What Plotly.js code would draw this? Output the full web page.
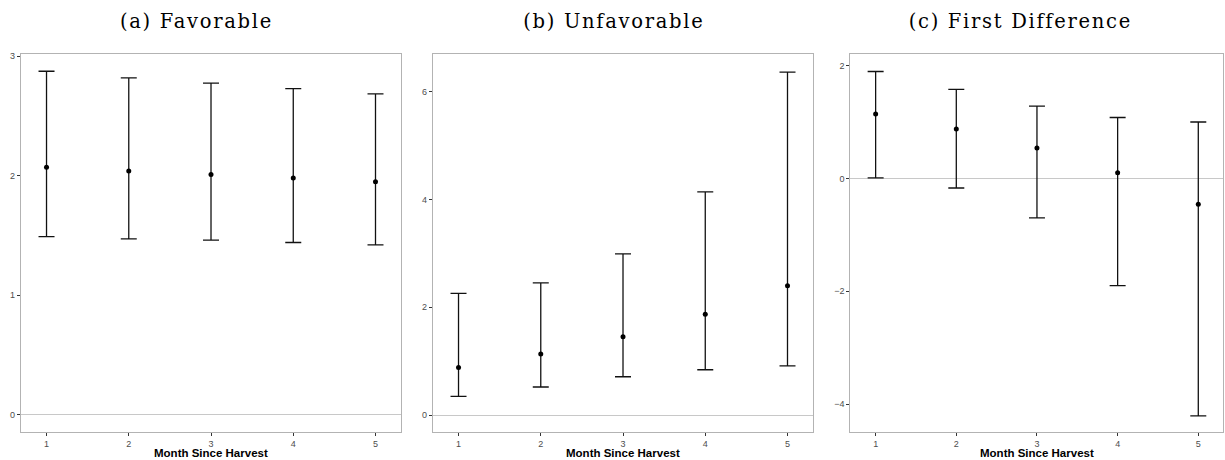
<!DOCTYPE html>
<html>
<head>
<meta charset="utf-8">
<script src="https://cdn.plot.ly/plotly-3.0.1.min.js"></script>
<style>
html,body{margin:0;padding:0;background:#fff;}
#chart{width:1225px;height:460px;}
#chart .annotation[data-index="0"] text,
#chart .annotation[data-index="1"] text,
#chart .annotation[data-index="2"] text{letter-spacing:1.7px;}
</style>
</head>
<body>
<div id="chart"></div>
<script>
// Months since harvest
const months = [1, 2, 3, 4, 5];
const tickLabels = ["1", "2", "3", "4", "5"];
const panelTitles = ["(a) Favorable", "(b) Unfavorable", "(c) First Difference"];
const xAxisTitle = "Month Since Harvest";

// (a) Favorable
const favEst   = [2.07, 2.04, 2.01, 1.98, 1.95];
const favUpper = [2.875, 2.82, 2.775, 2.73, 2.685];
const favLower = [1.49, 1.47, 1.46, 1.44, 1.42];

// (b) Unfavorable
const unfEst   = [0.88, 1.13, 1.45, 1.87, 2.40];
const unfUpper = [2.255, 2.45, 2.99, 4.14, 6.36];
const unfLower = [0.345, 0.52, 0.71, 0.84, 0.91];

// (c) First Difference
const fdEst   = [1.14, 0.875, 0.54, 0.10, -0.46];
const fdUpper = [1.895, 1.58, 1.28, 1.08, 1.00];
const fdLower = [0.01, -0.17, -0.70, -1.90, -4.21];

function errTrace(est, up, lo, xa, ya) {
  return {
    type: 'scatter', mode: 'markers',
    x: months, y: est, xaxis: xa, yaxis: ya,
    marker: {color: '#000', size: 5},
    error_y: {
      type: 'data', symmetric: false,
      array: up.map((u, i) => u - est[i]),
      arrayminus: lo.map((l, i) => est[i] - l),
      color: '#111', thickness: 1.3, width: 8
    },
    showlegend: false, hoverinfo: 'skip'
  };
}

const data = [
  errTrace(favEst, favUpper, favLower, 'x', 'y'),
  errTrace(unfEst, unfUpper, unfLower, 'x2', 'y2'),
  errTrace(fdEst, fdUpper, fdLower, 'x3', 'y3')
];

const W = 1225, H = 460;
const yDom = [(H - 432.3) / H, (H - 54.3) / H];
function xAx(dom) {
  return {
    domain: dom, range: [0.686, 5.31], tickvals: months, ticktext: tickLabels,
    ticks: 'outside', ticklen: 3, tickcolor: '#333', tickwidth: 1,
    tickfont: {family: 'Liberation Sans, Arial, sans-serif', size: 9, color: '#4d4d4d'},
    showline: true, mirror: true, linecolor: '#b3b3b3', linewidth: 1,
    showgrid: false, zeroline: false, fixedrange: true
  };
}
function yAx(range, tv, anchor) {
  return {
    domain: yDom, range: range, tickvals: tv, anchor: anchor,
    ticks: 'outside', ticklen: 3, tickcolor: '#333', tickwidth: 1,
    tickfont: {family: 'Liberation Sans, Arial, sans-serif', size: 9, color: '#4d4d4d'},
    showline: true, mirror: true, linecolor: '#b3b3b3', linewidth: 1,
    showgrid: false, zeroline: true, zerolinecolor: '#c8c8c8', zerolinewidth: 1,
    fixedrange: true
  };
}

const titleCenters = [196, 614, 1020];
const axisCenters = [211, 623, 1037];
const annotations = [];
panelTitles.forEach((t, i) => {
  annotations.push({
    text: t, xref: 'paper', yref: 'paper', x: titleCenters[i] / W, y: 1 - 21.5 / H,
    xanchor: 'center', yanchor: 'middle', showarrow: false,
    font: {family: 'DejaVu Serif, serif', size: 19.5, color: '#000'}
  });
});
panelTitles.forEach((t, i) => {
  annotations.push({
    text: '<b>' + xAxisTitle + '</b>', xref: 'paper', yref: 'paper', x: axisCenters[i] / W, y: 1 - 460 / H,
    xanchor: 'center', yanchor: 'bottom', showarrow: false, borderpad: 0,
    font: {family: 'Liberation Sans, Arial, sans-serif', size: 11.5, color: '#000'}
  });
});

const layout = {
  width: W, height: H,
  margin: {l: 0, r: 0, t: 0, b: 0},
  paper_bgcolor: '#fff', plot_bgcolor: '#fff',
  xaxis: xAx([20.7 / W, 401 / W]),
  xaxis2: xAx([432.7 / W, 813 / W]),
  xaxis3: xAx([850.3 / W, 1223.3 / W]),
  yaxis: yAx([-0.15, 3.017], [0, 1, 2, 3], 'x'),
  yaxis2: yAx([-0.32, 6.69], [0, 2, 4, 6], 'x2'),
  yaxis3: yAx([-4.5, 2.2], [-4, -2, 0, 2], 'x3'),
  annotations: annotations
};
layout.xaxis.anchor = 'y';
layout.xaxis2.anchor = 'y2';
layout.xaxis3.anchor = 'y3';

Plotly.newPlot('chart', data, layout, {displayModeBar: false, staticPlot: true});
</script>
</body>
</html>
